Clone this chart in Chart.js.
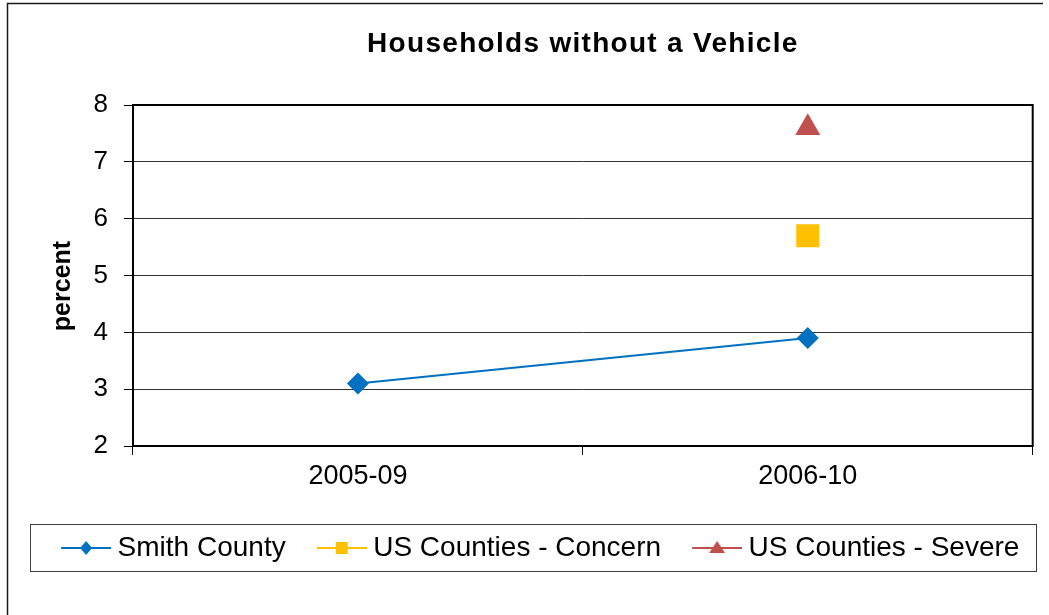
<!DOCTYPE html>
<html>
<head>
<meta charset="utf-8">
<title>Households without a Vehicle</title>
<script src="https://cdn.jsdelivr.net/npm/chart.js@4.4.1/dist/chart.umd.min.js"></script>
<style>
  html, body { margin: 0; padding: 0; background: #ffffff; }
  #wrap { width: 1049px; height: 615px; position: relative; }
</style>
</head>
<body>
<div id="wrap"><canvas id="chart" width="1049" height="615"></canvas></div>
<script>
// Chart data
const categories = ['2005-09', '2006-10'];
const smithCounty = [3.1, 3.9];
const usCountiesConcern = [null, 5.7];
const usCountiesSevere = [null, 7.6];
const yTicks = [2, 3, 4, 5, 6, 7, 8];

const chartTitle = 'Households without a Vehicle';
const yAxisTitle = 'percent';
const FONT = '"Liberation Sans", Arial, Helvetica, sans-serif';

const BLUE = '#0070C0';
const GOLD = '#FFC000';
const RED = '#C0504D';

// Legend swatch: short line with the series marker in the middle.
// The visible part sits in the right half so it lines up just before the label text.
function makeSwatch(color, shape) {
  const c = document.createElement('canvas');
  c.width = 85; c.height = 26;
  const g = c.getContext('2d');
  const x0 = 35, x1 = 85;
  const cx = (x0 + x1) / 2, cy = 13;
  g.strokeStyle = color;
  g.lineWidth = 2;
  g.beginPath();
  g.moveTo(x0, cy); g.lineTo(x1, cy);
  g.stroke();
  g.fillStyle = color;
  g.beginPath();
  if (shape === 'diamond') {
    g.moveTo(cx, cy - 7); g.lineTo(cx + 6, cy); g.lineTo(cx, cy + 7); g.lineTo(cx - 6, cy);
  } else if (shape === 'square') {
    g.rect(cx - 6, cy - 6, 12, 12);
  } else {
    g.moveTo(cx, cy - 7); g.lineTo(cx + 8, cy + 5); g.lineTo(cx - 8, cy + 5);
  }
  g.closePath();
  g.fill();
  return c;
}
const swatches = [makeSwatch(BLUE, 'diamond'), makeSwatch(GOLD, 'square'), makeSwatch(RED, 'triangle')];

// Frame, plot border, title and axis title
const decorations = {
  id: 'decorations',
  beforeDraw(chart) {
    const ctx = chart.ctx;
    ctx.save();
    ctx.fillStyle = '#ffffff';
    ctx.fillRect(0, 0, chart.width, chart.height);
    ctx.strokeStyle = '#1a1a1a';
    ctx.lineWidth = 1.5;
    ctx.beginPath();
    ctx.moveTo(7.5, chart.height);
    ctx.lineTo(7.5, 3.5);
    ctx.lineTo(1043, 3.5);
    ctx.stroke();
    // legend frame
    ctx.strokeStyle = '#404040';
    ctx.lineWidth = 1;
    ctx.strokeRect(30.5, 524.5, 1006, 47);
    ctx.restore();
  },
  beforeDatasetsDraw(chart) {
    const a = chart.chartArea;
    const ctx = chart.ctx;
    ctx.save();
    ctx.strokeStyle = '#000000';
    ctx.lineWidth = 2;
    ctx.strokeRect(a.left, a.top, a.right - a.left, a.bottom - a.top);
    ctx.restore();
  },
  afterDraw(chart) {
    const a = chart.chartArea;
    const ctx = chart.ctx;
    ctx.save();
    ctx.fillStyle = '#000000';
    ctx.textAlign = 'center';
    ctx.textBaseline = 'middle';
    ctx.font = 'bold 28px ' + FONT;
    if ('letterSpacing' in ctx) ctx.letterSpacing = '1.3px';
    ctx.fillText(chartTitle, (a.left + a.right) / 2, 44);
    if ('letterSpacing' in ctx) ctx.letterSpacing = '0px';
    ctx.translate(63, 286);
    ctx.rotate(-Math.PI / 2);
    ctx.font = 'bold 25px ' + FONT;
    ctx.fillText(yAxisTitle, 0, 0);
    ctx.restore();
  }
};

new Chart(document.getElementById('chart'), {
  type: 'line',
  data: {
    labels: categories,
    datasets: [
      {
        label: 'Smith County',
        data: smithCounty,
        borderColor: BLUE,
        backgroundColor: BLUE,
        borderWidth: 2,
        pointStyle: 'rectRot',
        pointRadius: 11,
        pointHoverRadius: 11,
        pointBorderWidth: 0,
        pointBackgroundColor: BLUE
      },
      {
        label: 'US Counties - Concern',
        data: usCountiesConcern,
        borderColor: GOLD,
        backgroundColor: GOLD,
        showLine: false,
        pointStyle: 'rect',
        pointRadius: 16.3,
        pointHoverRadius: 16.3,
        pointBorderWidth: 0,
        pointBackgroundColor: GOLD
      },
      {
        label: 'US Counties - Severe',
        data: usCountiesSevere,
        borderColor: RED,
        backgroundColor: RED,
        showLine: false,
        pointStyle: 'triangle',
        pointRadius: 14.5,
        pointHoverRadius: 14.5,
        pointBorderWidth: 0,
        pointBackgroundColor: RED
      }
    ]
  },
  options: {
    responsive: false,
    animation: false,
    devicePixelRatio: 1,
    layout: { padding: { left: 18, right: 14, top: 105, bottom: 43 } },
    plugins: {
      title: { display: false },
      tooltip: { enabled: false },
      legend: {
        display: true,
        position: 'bottom',
        labels: {
          color: '#000000',
          font: { family: FONT, size: 28 },
          padding: 3.5,
          usePointStyle: true,
          pointStyleWidth: 70,
          generateLabels(chart) {
            return chart.data.datasets.map((ds, i) => ({
              text: ds.label,
              datasetIndex: i,
              pointStyle: swatches[i],
              fillStyle: ds.backgroundColor,
              strokeStyle: ds.borderColor,
              lineWidth: 0,
              hidden: false,
              fontColor: '#000000'
            }));
          }
        }
      }
    },
    scales: {
      x: {
        type: 'category',
        offset: true,
        afterFit(scale) {
          scale.height = 84.5;
          scale.paddingLeft = 0;
          scale.paddingRight = 0;
        },
        grid: {
          offset: true,
          drawOnChartArea: false,
          drawTicks: true,
          tickLength: 9,
          color: '#000000',
          lineWidth: 1
        },
        border: { display: true, color: '#000000', width: 2 },
        ticks: {
          color: '#000000',
          font: { family: FONT, size: 27 },
          padding: 5,
          maxRotation: 0
        }
      },
      y: {
        min: 2,
        max: 8,
        afterFit(scale) { scale.width = 115; },
        afterBuildTicks(scale) { scale.ticks = yTicks.map(v => ({ value: v })); },
        grid: {
          color: '#333333',
          lineWidth: 1,
          drawTicks: true,
          tickLength: 9,
          tickColor: '#000000'
        },
        border: { display: true, color: '#000000', width: 2 },
        ticks: {
          color: '#000000',
          font: { family: FONT, size: 26 },
          padding: 16,
          stepSize: 1
        }
      }
    }
  },
  plugins: [decorations]
});
</script>
</body>
</html>
